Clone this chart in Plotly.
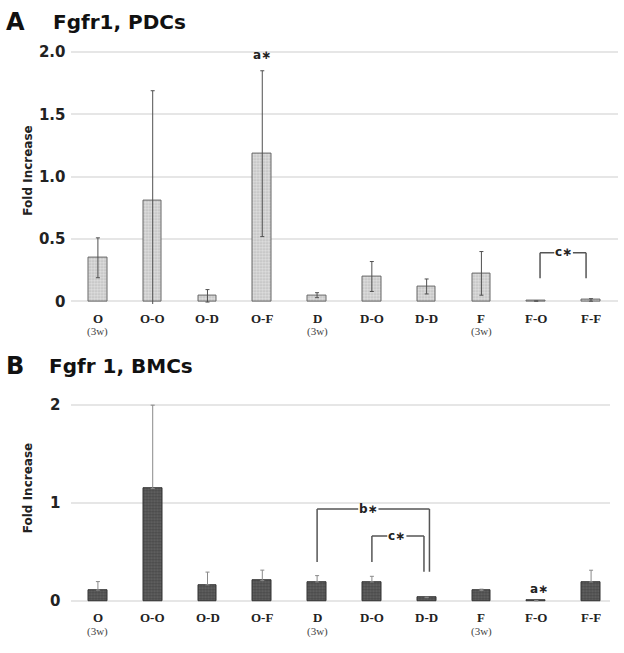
import plotly.graph_objects as go

categories = ["O", "O-O", "O-D", "O-F", "D", "D-O", "D-D", "F", "F-O", "F-F"]
sublabels = ["(3w)", "", "", "", "(3w)", "", "", "(3w)", "", ""]

pdc_values = [0.35, 0.81, 0.045, 1.185, 0.05, 0.20, 0.12, 0.225, 0.003, 0.012]
pdc_errors = [0.16, 0.88, 0.05, 0.665, 0.02, 0.12, 0.06, 0.175, 0.0, 0.01]

bmc_values = [0.113, 1.15, 0.167, 0.21, 0.196, 0.196, 0.036, 0.11, 0.005, 0.196]
bmc_errors = [0.087, 0.85, 0.13, 0.107, 0.065, 0.058, 0.005, 0.013, 0.0, 0.12]

top_ticks = [0, 0.5, 1.0, 1.5, 2.0]
top_ticktext = ["0", "0.5", "1.0", "1.5", "2.0"]
bot_ticks = [0, 1, 2]
bot_ticktext = ["0", "1", "2"]

xs = list(range(len(categories)))

fig = go.Figure()

fig.add_trace(go.Bar(
    x=xs, y=pdc_values, width=0.34,
    marker=dict(color="#dcdcdc", line=dict(color="#666666", width=1),
                pattern=dict(shape=".", fgcolor="#8a8a8a", bgcolor="#e0e0e0", size=3, solidity=0.4)),
    error_y=dict(type="data", array=pdc_errors, color="#505050", thickness=1, width=2),
    xaxis="x", yaxis="y", showlegend=False))

fig.add_trace(go.Bar(
    x=xs, y=bmc_values, width=0.34,
    marker=dict(color="#4a4a4a", line=dict(color="#333333", width=1),
                pattern=dict(shape=".", fgcolor="#262626", bgcolor="#666666", size=3, solidity=0.5)),
    error_y=dict(type="data", array=bmc_errors, arrayminus=[0] * len(bmc_errors),
                 color="#8a8a8a", thickness=1, width=2),
    xaxis="x2", yaxis="y2", showlegend=False))

axis_font = dict(family="DejaVu Sans", size=15, color="#222222")

fig.update_layout(
    width=624, height=653,
    margin=dict(l=0, r=0, t=0, b=0),
    paper_bgcolor="white", plot_bgcolor="white",
    bargap=0,
    xaxis=dict(domain=[0.113, 0.991], range=[-0.5, 9.5], showticklabels=False,
               showgrid=False, zeroline=False, showline=False, ticks=""),
    yaxis=dict(domain=[0.5345, 0.9319], range=[-0.02, 2.02], tickvals=top_ticks,
               ticktext=["<b>%s</b>" % t for t in top_ticktext], tickfont=axis_font,
               showgrid=True, gridcolor="#e6e6e6", gridwidth=1.5, zeroline=False,
               showline=False, ticks="", ticklabelstandoff=4),
    xaxis2=dict(domain=[0.113, 0.978], range=[-0.5, 9.35], anchor="y2", showticklabels=False,
                showgrid=False, zeroline=False, showline=False, ticks=""),
    yaxis2=dict(domain=[0.0654, 0.3809], range=[-0.03, 2.03], anchor="x2", tickvals=bot_ticks,
                ticktext=["<b>%s</b>" % t for t in bot_ticktext], tickfont=axis_font,
                showgrid=True, gridcolor="#e6e6e6", gridwidth=1.5, zeroline=False,
                showline=False, ticks="", ticklabelstandoff=9),
)

ann = []
# panel titles
ann.append(dict(text="<b>A</b>", x=4 / 624, y=1 - 16 / 653, xref="paper", yref="paper",
                xanchor="left", yanchor="middle", showarrow=False,
                font=dict(family="DejaVu Sans", size=24, color="#111111")))
ann.append(dict(text="<b>Fgfr1, PDCs</b>", x=51 / 624, y=1 - 16 / 653, xref="paper", yref="paper",
                xanchor="left", yanchor="middle", showarrow=False,
                font=dict(family="DejaVu Sans", size=20, color="#111111")))
ann.append(dict(text="<b>B</b>", x=4 / 624, y=1 - 367 / 653, xref="paper", yref="paper",
                xanchor="left", yanchor="middle", showarrow=False,
                font=dict(family="DejaVu Sans", size=24, color="#111111")))
ann.append(dict(text="<b>Fgfr 1, BMCs</b>", x=47 / 624, y=1 - 367 / 653, xref="paper", yref="paper",
                xanchor="left", yanchor="middle", showarrow=False,
                font=dict(family="DejaVu Sans", size=20, color="#111111")))
# y axis titles
ann.append(dict(text="<b>Fold Increase</b>", x=28 / 624, y=1 - 168 / 653, xref="paper", yref="paper",
                textangle=-90, showarrow=False, xanchor="center", yanchor="middle",
                font=dict(family="DejaVu Sans", size=12, color="#222222")))
ann.append(dict(text="<b>Fold Increase</b>", x=28 / 624, y=1 - 492 / 653, xref="paper", yref="paper",
                textangle=-90, showarrow=False, xanchor="center", yanchor="middle",
                font=dict(family="DejaVu Sans", size=12, color="#222222")))

# category labels
for xa, ya, dy1, dy2 in [("x", "y", -17, -30), ("x2", "y2", -16, -30)]:
    for i, (c, s) in enumerate(zip(categories, sublabels)):
        ann.append(dict(text="<b>%s</b>" % c, x=i, y=0, xref=xa, yref=ya, yshift=dy1,
                        showarrow=False, yanchor="middle",
                        font=dict(family="Liberation Serif", size=13, color="#222222")))
        if s:
            ann.append(dict(text=s, x=i, y=0, xref=xa, yref=ya, yshift=dy2,
                            showarrow=False, yanchor="middle",
                            font=dict(family="Liberation Serif", size=11, color="#444444")))

sig_font = dict(family="DejaVu Sans", size=12, color="#222222")
# significance markers
ann.append(dict(text="<b>a∗</b>", x=3, y=1.98, xref="x", yref="y", showarrow=False,
                font=sig_font))
ann.append(dict(text="<b>c∗</b>", x=8.5, y=0.395, xref="x", yref="y", showarrow=False,
                font=sig_font))
ann.append(dict(text="<b>b∗</b>", x=4.93, y=0.94, xref="x2", yref="y2", showarrow=False,
                font=sig_font))
ann.append(dict(text="<b>c∗</b>", x=5.45, y=0.666, xref="x2", yref="y2", showarrow=False,
                font=sig_font))
ann.append(dict(text="<b>a∗</b>", x=8.05, y=0.12, xref="x2", yref="y2", showarrow=False,
                font=sig_font))
fig.update_layout(annotations=ann)

line_style = dict(color="#555555", width=1.5)
shapes = []


def bracket(xref, yref, x0, x1, ytop, yl, yr, gap0, gap1):
    out = []
    out.append(dict(type="line", xref=xref, yref=yref, x0=x0, x1=x0, y0=yl, y1=ytop, line=line_style))
    out.append(dict(type="line", xref=xref, yref=yref, x0=x1, x1=x1, y0=yr, y1=ytop, line=line_style))
    out.append(dict(type="line", xref=xref, yref=yref, x0=x0, x1=gap0, y0=ytop, y1=ytop, line=line_style))
    out.append(dict(type="line", xref=xref, yref=yref, x0=gap1, x1=x1, y0=ytop, y1=ytop, line=line_style))
    return out


shapes += bracket("x", "y", 8.07, 8.91, 0.39, 0.185, 0.185, 8.33, 8.67)
shapes += bracket("x2", "y2", 4.0, 6.05, 0.94, 0.40, 0.30, 4.75, 5.12)
shapes += bracket("x2", "y2", 5.0, 5.95, 0.666, 0.40, 0.30, 5.28, 5.63)
fig.update_layout(shapes=shapes)

fig.write_html("out.html")
